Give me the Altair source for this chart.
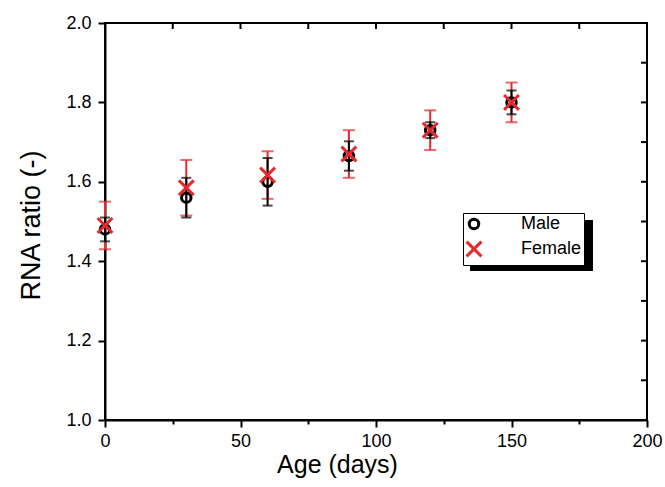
import altair as alt
import pandas as pd

ages = [0, 30, 60, 90, 120, 150]
male_mean = [1.48, 1.56, 1.60, 1.665, 1.73, 1.80]
male_err = [0.03, 0.05, 0.06, 0.037, 0.02, 0.03]
female_mean = [1.49, 1.585, 1.617, 1.67, 1.73, 1.80]
female_err = [0.06, 0.07, 0.06, 0.06, 0.05, 0.05]

x_ticks = [0, 25, 50, 75, 100, 125, 150, 175, 200]
y_ticks = [1.0, 1.1, 1.2, 1.3, 1.4, 1.5, 1.6, 1.7, 1.8, 1.9, 2.0]

series = ["Male", "Female"]
RED = "#e42a2c"
W, H = 542, 397
FONT = "Liberation Sans"

rows = []
for a, m, e in zip(ages, male_mean, male_err):
    rows.append({"age": a, "ratio": m, "lo": m - e, "hi": m + e, "sex": "Male"})
for a, m, e in zip(ages, female_mean, female_err):
    rows.append({"age": a, "ratio": m, "lo": m - e, "hi": m + e, "sex": "Female"})
df = pd.DataFrame(rows)
male_df = df[df.sex == "Male"]
female_df = df[df.sex == "Female"]

xscale = alt.Scale(domain=[0, 200], nice=False)
yscale = alt.Scale(domain=[1.0, 2.0], nice=False, zero=False)

xaxis = alt.Axis(
    values=x_ticks, labelExpr="datum.value % 50 === 0 ? datum.label : ''",
    tickSize={"condition": {"test": "datum.value % 50 === 0", "value": 7}, "value": 4},
    title="Age (days)", grid=False, domainColor="black", domainWidth=2,
    tickColor="black", tickWidth=2, labelFontSize=18, labelColor="black",
    labelFont=FONT, titleFont=FONT, titleFontSize=25, titleFontWeight="normal",
    titleColor="black", labelPadding=5, titlePadding=2, labelFlush=False,
    titleX=232, titleAnchor="middle", titleAlign="center",
)
yaxis = alt.Axis(
    values=y_ticks, labelExpr="round(datum.value*10) % 2 === 0 ? format(datum.value, '.1f') : ''",
    tickSize={"condition": {"test": "round(datum.value*10) % 2 === 0", "value": 7}, "value": 4},
    title="RNA ratio (-)", grid=False, domainColor="black", domainWidth=2,
    tickColor="black", tickWidth=2, labelFontSize=18, labelColor="black",
    labelFont=FONT, titleFont=FONT, titleFontSize=27, titleFontWeight="normal",
    titleColor="black", labelPadding=7, titlePadding=20, labelFlush=False,
    titleY=202, titleAnchor="middle", titleAlign="center",
)

base = alt.Chart(df)


def errbars(d, color, cap):
    b = alt.Chart(d)
    r = b.mark_rule(color=color, strokeWidth=2).encode(
        x=alt.X("age:Q", scale=xscale, axis=xaxis),
        y=alt.Y("lo:Q", scale=yscale, axis=yaxis),
        y2="hi:Q",
    )
    t1 = b.mark_tick(color=color, thickness=2, size=cap, orient="horizontal").encode(
        x=alt.X("age:Q", scale=xscale), y=alt.Y("lo:Q", scale=yscale))
    t2 = b.mark_tick(color=color, thickness=2, size=cap, orient="horizontal").encode(
        x=alt.X("age:Q", scale=xscale), y=alt.Y("hi:Q", scale=yscale))
    return r + t1 + t2


fem_err = errbars(female_df, RED, 12)
mal_err = errbars(male_df, "black", 10)

points = base.mark_point(filled=False, strokeWidth=3, opacity=1).encode(
    x=alt.X("age:Q", scale=xscale),
    y=alt.Y("ratio:Q", scale=yscale),
    color=alt.Color("sex:N", scale=alt.Scale(domain=series, range=["black", RED]),
                    legend=alt.Legend(
                        title=None, orient="none", legendX=358, legendY=190,
                        strokeColor="black", fillColor="white", padding=2,
                        labelFontSize=18, labelFont=FONT, labelColor="black",
                        labelOffset=38, symbolStrokeWidth=3, rowPadding=0,
                        direction="vertical", cornerRadius=0, labelLimit=200,
                    )),
    shape=alt.Shape("sex:N", scale=alt.Scale(domain=series, range=["circle", "M-1,-1L1,1M-1,1L1,-1"])),
    size=alt.Size("sex:N", scale=alt.Scale(domain=series, range=[90, 220])),
    order=alt.Order("sex:N", sort="descending"),
)

shadow = alt.Chart(pd.DataFrame({"k": [0]})).mark_rect(color="black").encode(
    x=alt.value(365), x2=alt.value(488), y=alt.value(197), y2=alt.value(248))

top_ticks = alt.Chart(pd.DataFrame({"v": x_ticks})).mark_rule(color="black", strokeWidth=2).encode(
    x=alt.X("v:Q", scale=xscale), y=alt.value(0), y2=alt.value(6))
right_ticks = alt.Chart(pd.DataFrame({"v": y_ticks})).mark_rule(color="black", strokeWidth=2).encode(
    y=alt.Y("v:Q", scale=yscale), x=alt.value(W), x2=alt.value(W - 6))

chart = alt.layer(
    fem_err, mal_err, points, top_ticks, right_ticks, shadow
).properties(
    width=W, height=H,
    autosize=alt.AutoSizeParams(type="none"),
    padding={"left": 105, "top": 23, "right": 18, "bottom": 67},
    background="white",
).configure_view(stroke="black", strokeWidth=2)

chart.save("out.html", embed_options={"renderer": "svg", "actions": False})
